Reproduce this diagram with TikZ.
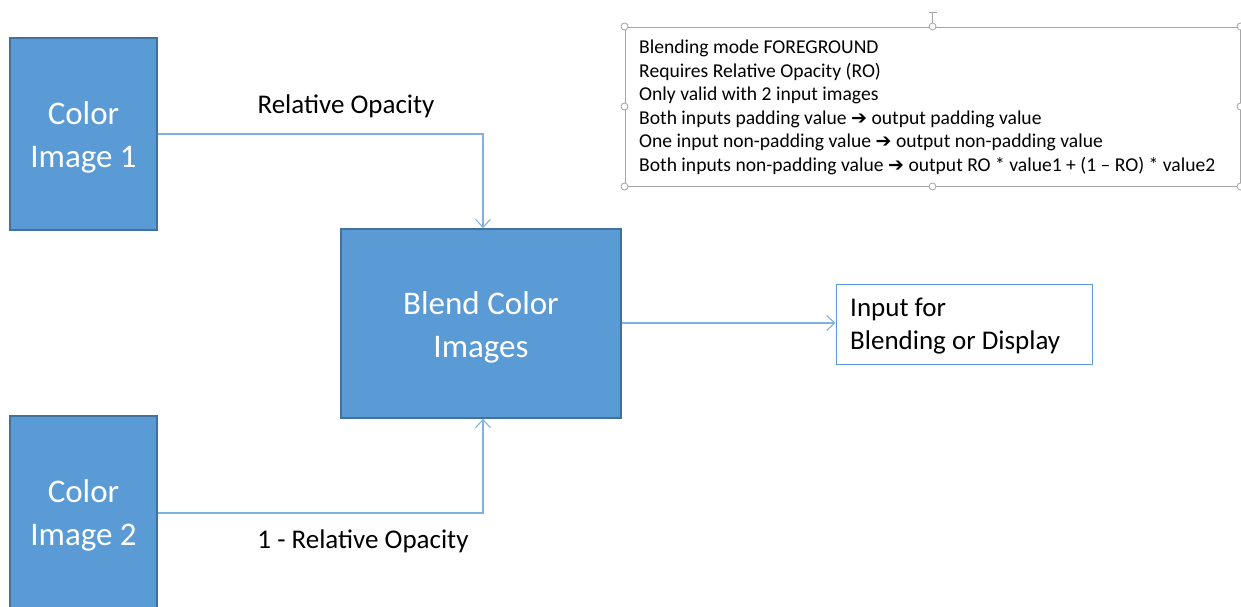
\documentclass[tikz,border=0pt]{standalone}
\usepackage{fontspec}
\setmainfont{Carlito}
\newfontfamily\symfont{DejaVu Sans}
\usetikzlibrary{arrows.meta}
\definecolor{boxfill}{HTML}{5B9BD5}
\definecolor{boxedge}{HTML}{41719C}
\definecolor{connc}{HTML}{7FB2E0}
\definecolor{greyedge}{HTML}{A6A6A6}
\tikzset{
  bluebox/.style={draw=boxedge, line width=1.8pt, fill=boxfill, inner sep=0pt},
  boxtext/.style={text=white, align=center, inner sep=0pt, font=\fontsize{33}{43}\selectfont},
  conn/.style={draw=connc, line width=1.1pt, -{Straight Barb[length=8pt,width=15pt,line width=1.1pt]}},
  lbl/.style={font=\fontsize{27}{32}\selectfont, inner sep=0pt},
  handle/.style={draw=greyedge, fill=white, line width=0.8pt, circle, minimum size=7pt, inner sep=0pt}
}
\newcommand{\rarr}{{\symfont\bfseries\fontsize{19}{19}\selectfont ➔}}
\begin{document}
\begin{tikzpicture}[x=1pt,y=-1pt]
\useasboundingbox (0,0) rectangle (1241,606);
\clip (0,0) rectangle (1241,606);
\fill[white] (0,0) rectangle (1241,606);
% main boxes
\node[bluebox, minimum width=147pt, minimum height=192pt] (ci1) at (83.5,134) {};
\node[boxtext] (ci1t) at (83.5,137) {Color\\Image 1};
\node[bluebox, minimum width=147pt, minimum height=192pt] (ci2) at (83.5,512) {};
\node[boxtext] (ci2t) at (83.5,515) {Color\\Image 2};
\node[bluebox, minimum width=280pt, minimum height=189pt] (blend) at (481,323.5) {};
\node[boxtext] (blendt) at (481,327) {Blend Color\\Images};
\node[draw=boxfill, line width=1pt, fill=white, minimum width=256pt, minimum height=80pt, inner sep=0pt] (out) at (964,324) {};
\node[anchor=west, align=left, inner sep=0pt, font=\fontsize{27}{33}\selectfont] (outtxt) at (850,326) {Input for\\Blending or Display};
% connectors
\draw[conn] (ci1.east) -| ([xshift=2pt]blend.north);
\draw[conn] (ci2.east |- 0,513) -| ([xshift=2pt]blend.south);
\draw[conn] (blend.east |- 0,323) -- (out.west |- 0,323);
% labels
\node[lbl] (l1) at (346,106) {Relative Opacity};
\node[lbl] (l2) at (363,541) {1 - Relative Opacity};
% text box
\node[draw=greyedge, line width=1pt, minimum width=615pt, minimum height=159pt, inner sep=0pt] (tb) at (932.5,106.5) {};
\node[anchor=north west, align=left, inner sep=0pt, font=\fontsize{19.6}{23.5}\selectfont] (tbtxt) at (639,40) {%
Blending mode FOREGROUND\\
Requires Relative Opacity (RO)\\
Only valid with 2 input images\\
Both inputs padding value \rarr\ output padding value\\
One input non-padding value \rarr\ output non-padding value\\
Both inputs non-padding value \rarr\ output RO * value1 + (1 – RO) * value2};
% selection handles
\draw[greyedge, line width=0.8pt] (tb.north) -- ++(0,-14) coordinate (rot);
\draw[greyedge, line width=0.8pt] ([xshift=-4pt]rot) -- ([xshift=4pt]rot);
\foreach \a in {north west,north,north east,west,east,south west,south,south east}
  \node[handle] at (tb.\a) {};
\end{tikzpicture}
\end{document}
